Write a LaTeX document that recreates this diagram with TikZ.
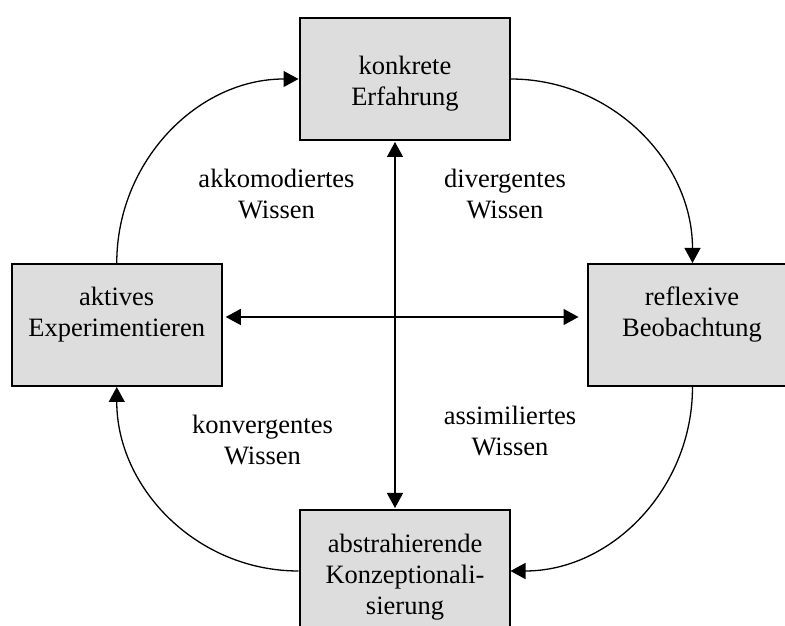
\documentclass[tikz,border=0pt]{standalone}
\usepackage{fontspec}
\setmainfont{Liberation Serif}
\usetikzlibrary{arrows.meta}
\definecolor{boxfill}{RGB}{221,221,221}
\begin{document}
\begin{tikzpicture}[x=1pt,y=1pt,
  stage/.style={draw=black, line width=2pt, fill=boxfill,
    minimum width=210pt, minimum height=122pt, inner sep=0pt},
  caption/.style={align=center, font=\fontsize{26.5}{31}\selectfont, inner sep=0pt},
  tip/.tip={Triangle[length=15pt,width=16pt]},
  flow/.style={line width=1.3pt, -tip},
  twoway/.style={line width=1.3pt, tip-tip}]
\useasboundingbox (0,0) rectangle (785,626);
\clip (0,0) rectangle (785,626);

% the four stages of the learning cycle
\node[stage] (ke) at (404.5,547) {};
\node[stage] (ae) at (116.75,301) {};
\node[stage] (rb) at (692.5,301) {};
\node[stage] (ak) at (404.5,55) {};

\node[caption] (keT) at (405,542.6) {konkrete\\Erfahrung};
\node[caption] (aeT) at (116.75,311.5) {aktives\\Experimentieren};
\node[caption] (rbT) at (692,311.5) {reflexive\\Beobachtung};
\node[caption] (akT) at (405,49) {abstrahierende\\Konzeptionali-\\sierung};

% kinds of knowledge in the quadrants
\node[caption] (l1) at (276.5,431.5) {akkomodiertes\\Wissen};
\node[caption] (l2) at (505,431.5) {divergentes\\Wissen};
\node[caption] (l3) at (262.5,185.5) {konvergentes\\Wissen};
\node[caption] (l4) at (510,194.5) {assimiliertes\\Wissen};

% cycle arrows
\draw[flow] (ae.north) to[out=90,in=180] (ke.west);
\draw[flow] (ke.east) to[out=0,in=90] (rb.north);
\draw[flow] (rb.south) to[out=-90,in=0] (ak.east);
\draw[flow] (ak.west) to[out=180,in=-90] (ae.south);

% the two axes
\draw[twoway, shorten <=1pt, shorten >=1pt]
  ([xshift=-9.5pt]ke.south) -- ([xshift=-9.5pt]ak.north);
\draw[twoway, shorten <=3pt, shorten >=8pt]
  ([yshift=8pt]ae.east) -- ([yshift=8pt]rb.west);
\end{tikzpicture}
\end{document}
